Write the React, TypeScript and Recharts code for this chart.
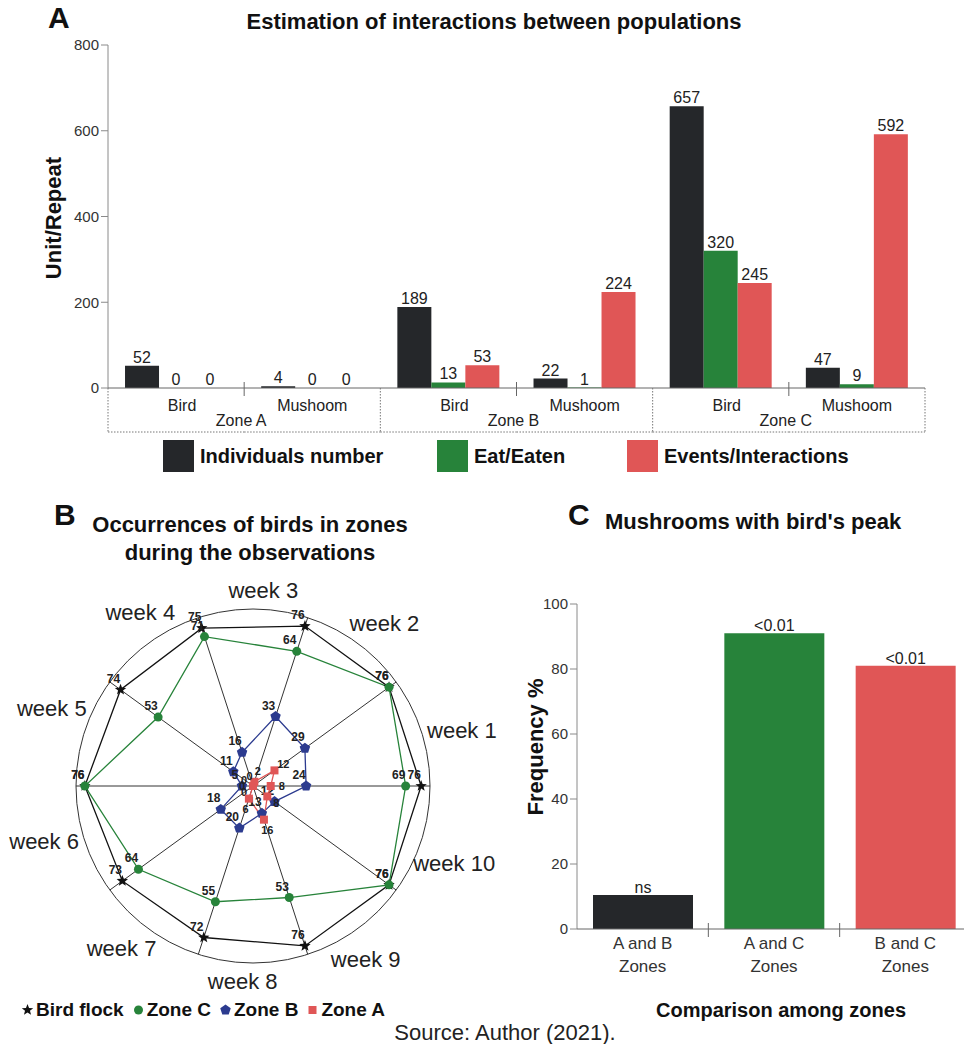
import React from 'react';
import {
  BarChart, Bar, XAxis, YAxis, LabelList, Cell,
  RadarChart, Radar, PolarGrid, PolarAngleAxis, PolarRadiusAxis,
} from 'recharts';

const FONT = '"Liberation Sans", Arial, Helvetica, sans-serif';

// Panel A - interactions between populations
const CATEGORIES = ['Bird', 'Mushoom', 'Bird', 'Mushoom', 'Bird', 'Mushoom'];
const ZONES = ['Zone A', 'Zone A', 'Zone B', 'Zone B', 'Zone C', 'Zone C'];
const INDIVIDUALS = [52, 4, 189, 22, 657, 47];
const EAT_EATEN = [0, 0, 13, 1, 320, 9];
const EVENTS = [0, 0, 53, 224, 245, 592];
const A_TICKS = [0, 200, 400, 600, 800];

// Panel B - occurrences of birds per week
const WEEKS = ['week 1', 'week 2', 'week 3', 'week 4', 'week 5', 'week 6', 'week 7', 'week 8', 'week 9', 'week 10'];
const BIRD_FLOCK = [76, 76, 76, 75, 74, 76, 73, 72, 76, 76];
const ZONE_C = [69, 76, 64, 71, 53, 76, 64, 55, 53, 76];
const ZONE_B = [24, 29, 33, 16, 11, 5, 18, 20, 13, 12];
const ZONE_A = [8, 12, 2, 0, 0, 0, 0, 6, 16, 8];

// Panel C - mushrooms with bird's peak
const PAIRS = ['A and B', 'A and C', 'B and C'];
const FREQUENCY = [10.5, 91, 81];
const SIGNIF = ['ns', '<0.01', '<0.01'];
const C_TICKS = [0, 20, 40, 60, 80, 100];

const BLACK = '#25272a';
const GREEN = '#27833a';
const RED = '#e05656';
const BLUE = '#2c3b8f';
const AXIS = '#8a8a8a';

const aData = CATEGORIES.map((c, i) => ({
  cat: c, zone: ZONES[i], ind: INDIVIDUALS[i], eat: EAT_EATEN[i], ev: EVENTS[i],
}));
const radarData = WEEKS.map((w, i) => ({
  week: w, bird: BIRD_FLOCK[i], c: ZONE_C[i], b: ZONE_B[i], a: ZONE_A[i],
}));
const cData = PAIRS.map((p, i) => ({ pair: p, freq: FREQUENCY[i], sig: SIGNIF[i] }));

// chart A frame
const A_LEFT = 108;
const A_RIGHT = 925;
const A_BOTTOM = 388;
const A_BAND = (A_RIGHT - A_LEFT) / 6;

const CatTick = (props: any) => {
  const { x, payload, index } = props;
  const left = x - A_BAND / 2;
  const right = x + A_BAND / 2;
  return (
    <g>
      {index % 2 === 1 && <line x1={left} x2={left} y1={A_BOTTOM - 6} y2={A_BOTTOM + 8} stroke="#666" />}
      <text x={x + (index % 2 ? 0 : 6)} y={A_BOTTOM + 23} textAnchor="middle" fontSize={16} fill="#222" fontFamily={FONT}>
        {payload.value}
      </text>
      {index % 2 === 0 && (
        <>
          <text x={right - 3} y={A_BOTTOM + 38} textAnchor="middle" fontSize={16} fill="#222" fontFamily={FONT}>
            {ZONES[index]}
          </text>
          <line x1={left} x2={left} y1={A_BOTTOM} y2={A_BOTTOM + 44} stroke="#777" strokeDasharray="1.5 1.5" />
        </>
      )}
      {index === 5 && <line x1={right} x2={right} y1={A_BOTTOM} y2={A_BOTTOM + 44} stroke="#777" strokeDasharray="1.5 1.5" />}
      <line x1={left} x2={right} y1={A_BOTTOM + 44} y2={A_BOTTOM + 44} stroke="#777" strokeDasharray="1.5 1.5" />
    </g>
  );
};

const C_LEFT = 577;
const C_BAND = (971 - C_LEFT) / 3;
const C_BOTTOM = 349;

const PairTick = (props: any) => {
  const { x, payload, index } = props;
  return (
    <g>
      {index > 0 && <line x1={x - C_BAND / 2} x2={x - C_BAND / 2} y1={C_BOTTOM - 6} y2={C_BOTTOM + 8} stroke="#666" />}
      <text x={x} y={C_BOTTOM + 20} textAnchor="middle" fontSize={17} fill="#333" fontFamily={FONT}>{payload.value}</text>
      <text x={x} y={C_BOTTOM + 43} textAnchor="middle" fontSize={17} fill="#333" fontFamily={FONT}>Zones</text>
    </g>
  );
};

// radar frame
const R_CX = 253;
const R_CY = 240;
const R_OUT = 177;
const R_STEP = 360 / WEEKS.length;

const WeekTick = (props: any) => {
  const { index, payload } = props;
  const a = ((index * R_STEP + 15) * Math.PI) / 180;
  const r = 195 + 22 * Math.abs(Math.cos(a));
  return (
    <text x={R_CX + r * Math.cos(a)} y={R_CY - r * Math.sin(a)} textAnchor="middle" dominantBaseline="central"
      fontSize={22} fill="#222" fontFamily={FONT}>
      {payload.value}
    </text>
  );
};

const starPts = (cx: number, cy: number, ro: number, ri: number) => {
  const pts: string[] = [];
  for (let i = 0; i < 10; i++) {
    const r = i % 2 === 0 ? ro : ri;
    const a = -Math.PI / 2 + (i * Math.PI) / 5;
    pts.push(`${cx + r * Math.cos(a)},${cy + r * Math.sin(a)}`);
  }
  return pts.join(' ');
};
const pentaPts = (cx: number, cy: number, r: number) => {
  const pts: string[] = [];
  for (let i = 0; i < 5; i++) {
    const a = -Math.PI / 2 + (i * 2 * Math.PI) / 5;
    pts.push(`${cx + r * Math.cos(a)},${cy + r * Math.sin(a)}`);
  }
  return pts.join(' ');
};

const Marker = ({ kind, cx, cy, color }: { kind: string; cx: number; cy: number; color: string }) => {
  if (kind === 'star') return <polygon points={starPts(cx, cy, 6, 2.6)} fill={color} />;
  if (kind === 'circle') return <circle cx={cx} cy={cy} r={4.5} fill={color} />;
  if (kind === 'penta') return <polygon points={pentaPts(cx, cy, 5.5)} fill={color} />;
  return <rect x={cx - 4} y={cy - 4} width={8} height={8} fill={color} />;
};

const makeDot = (kind: string, values: number[], color: string) => (p: any) => {
  const { cx, cy, index } = p;
  // zone A values sit near the centre, so push their numbers outward along the spoke
  let lx = cx - 7;
  let ly = cy - 7;
  if (kind === 'square') {
    const a = (index * R_STEP * Math.PI) / 180;
    lx = cx + 11 * Math.cos(a);
    ly = cy - 11 * Math.sin(a) + 4;
  }
  return (
    <g key={`${kind}-${index}`}>
      <Marker kind={kind} cx={cx} cy={cy} color={color} />
      <text x={lx} y={ly} textAnchor="middle" fontSize={kind === 'square' ? 11 : 12} fontWeight="bold" fill="#222" fontFamily={FONT}>
        {values[index]}
      </text>
    </g>
  );
};

const LegendBox = ({ color, label }: { color: string; label: string }) => (
  <div style={{ display: 'flex', alignItems: 'center', gap: 6 }}>
    <div style={{ width: 31, height: 32, background: color }} />
    <span style={{ fontSize: 20, fontWeight: 'bold', color: '#111', lineHeight: 1 }}>{label}</span>
  </div>
);

const LegendMark = ({ kind, color, label }: { kind: string; color: string; label: string }) => (
  <span style={{ display: 'inline-flex', alignItems: 'center', marginRight: 7 }}>
    <svg width={15} height={17} style={{ marginRight: 1 }}>
      <Marker kind={kind} cx={7.5} cy={9} color={color} />
    </svg>
    {label}
  </span>
);

const abs = (left: number, top: number, extra: any = {}) => ({ position: 'absolute' as const, left, top, lineHeight: 1, ...extra });

export default function App() {
  return (
    <div style={{ position: 'absolute', left: 0, top: 0, width: 964, height: 1044, background: '#fff', overflow: 'hidden', fontFamily: FONT, color: '#111' }}>
      {/* Panel A */}
      <div style={abs(48, 3, { fontSize: 30, fontWeight: 'bold' })}>A</div>
      <div style={abs(194, 11, { width: 600, textAlign: 'center', fontSize: 22, fontWeight: 'bold' })}>
        Estimation of interactions between populations
      </div>
      <div style={abs(-11, 207, { width: 130, textAlign: 'center', fontSize: 22, fontWeight: 'bold', transform: 'rotate(-90deg)' })}>
        Unit/Repeat
      </div>
      <div style={abs(0, 0)}>
        <BarChart width={964} height={440} data={aData} margin={{ top: 45, right: 964 - A_RIGHT, left: 0, bottom: 0 }}
          barCategoryGap="12.5%" barGap={0}>
          <YAxis width={A_LEFT} domain={[0, 800]} ticks={A_TICKS} tick={{ fontSize: 15, fill: '#333', fontFamily: FONT }}
            axisLine={{ stroke: AXIS }} tickLine={{ stroke: AXIS }} tickSize={7} />
          <XAxis dataKey="cat" height={52} tick={<CatTick />} tickLine={false} axisLine={{ stroke: '#666' }} interval={0} />
          <Bar dataKey="ind" fill={BLACK} minPointSize={0.01} isAnimationActive={false}>
            <LabelList dataKey="ind" position="top" offset={3} fontSize={16} fill="#222" fontFamily={FONT} />
          </Bar>
          <Bar dataKey="eat" fill={GREEN} minPointSize={0.01} isAnimationActive={false}>
            <LabelList dataKey="eat" position="top" offset={3} fontSize={16} fill="#222" fontFamily={FONT} />
          </Bar>
          <Bar dataKey="ev" fill={RED} minPointSize={0.01} isAnimationActive={false}>
            <LabelList dataKey="ev" position="top" offset={3} fontSize={16} fill="#222" fontFamily={FONT} />
          </Bar>
        </BarChart>
      </div>
      <div style={abs(163, 440, { display: 'flex' })}>
        <div style={{ width: 274 }}><LegendBox color={BLACK} label="Individuals number" /></div>
        <div style={{ width: 190 }}><LegendBox color={GREEN} label="Eat/Eaten" /></div>
        <LegendBox color={RED} label="Events/Interactions" />
      </div>

      {/* Panel B */}
      <div style={abs(54, 500, { fontSize: 30, fontWeight: 'bold' })}>B</div>
      <div style={abs(60, 511, { width: 380, textAlign: 'center', fontSize: 22, fontWeight: 'bold', lineHeight: '28px' })}>
        Occurrences of birds in zones<br />during the observations
      </div>
      <div style={abs(0, 546)}>
        <RadarChart width={520} height={450} cx={R_CX} cy={R_CY} outerRadius={R_OUT} data={radarData}
          startAngle={-R_STEP} endAngle={360 - R_STEP} margin={{ top: 0, right: 0, bottom: 0, left: 0 }}>
          <PolarGrid gridType="circle" polarRadius={[R_OUT]} stroke="#333" strokeWidth={1} />
          <PolarAngleAxis dataKey="week" tick={<WeekTick />} tickLine={false} axisLine={false} />
          <PolarRadiusAxis domain={[0, 80]} tick={false} axisLine={false} />
          <Radar dataKey="bird" stroke="#111" strokeWidth={1.3} fill="none" fillOpacity={0}
            dot={makeDot('star', BIRD_FLOCK, '#111')} isAnimationActive={false} />
          <Radar dataKey="c" stroke={GREEN} strokeWidth={1.3} fill="none" fillOpacity={0}
            dot={makeDot('circle', ZONE_C, GREEN)} isAnimationActive={false} />
          <Radar dataKey="b" stroke={BLUE} strokeWidth={1.3} fill="none" fillOpacity={0}
            dot={makeDot('penta', ZONE_B, BLUE)} isAnimationActive={false} />
          <Radar dataKey="a" stroke={RED} strokeWidth={1.3} fill="none" fillOpacity={0}
            dot={makeDot('square', ZONE_A, RED)} isAnimationActive={false} />
        </RadarChart>
      </div>
      <div style={abs(20, 1000, { fontSize: 19, fontWeight: 'bold', display: 'flex', whiteSpace: 'nowrap' })}>
        <LegendMark kind="star" color="#111" label="Bird flock" />
        <LegendMark kind="circle" color={GREEN} label="Zone C" />
        <LegendMark kind="penta" color={BLUE} label="Zone B" />
        <LegendMark kind="square" color={RED} label="Zone A" />
      </div>

      {/* Panel C */}
      <div style={abs(568, 500, { fontSize: 30, fontWeight: 'bold' })}>C</div>
      <div style={abs(605, 511, { fontSize: 22, fontWeight: 'bold' })}>Mushrooms with bird's peak</div>
      <div style={abs(466, 736, { width: 140, textAlign: 'center', fontSize: 22, fontWeight: 'bold', transform: 'rotate(-90deg)' })}>
        Frequency %
      </div>
      <div style={abs(520, 580)}>
        <BarChart width={451} height={399} data={cData} margin={{ top: 24, right: 0, left: 0, bottom: 0 }} barSize={100}>
          <YAxis width={C_LEFT - 520} domain={[0, 100]} ticks={C_TICKS} tick={{ fontSize: 15, fill: '#333', fontFamily: FONT }}
            axisLine={{ stroke: AXIS }} tickLine={{ stroke: AXIS }} tickSize={7} />
          <XAxis dataKey="pair" height={50} tick={<PairTick />} tickLine={false} axisLine={{ stroke: '#666' }} interval={0} />
          <Bar dataKey="freq" isAnimationActive={false}>
            {cData.map((d, i) => (
              <Cell key={d.pair} fill={[BLACK, GREEN, RED][i]} />
            ))}
            <LabelList dataKey="sig" position="top" offset={2} fontSize={16} fill="#222" fontFamily={FONT} />
          </Bar>
        </BarChart>
      </div>
      <div style={abs(631, 1000, { width: 300, textAlign: 'center', fontSize: 20, fontWeight: 'bold' })}>
        Comparison among zones
      </div>

      <div style={abs(305, 1022, { width: 400, textAlign: 'center', fontSize: 22, color: '#222' })}>
        Source: Author (2021).
      </div>
    </div>
  );
}
